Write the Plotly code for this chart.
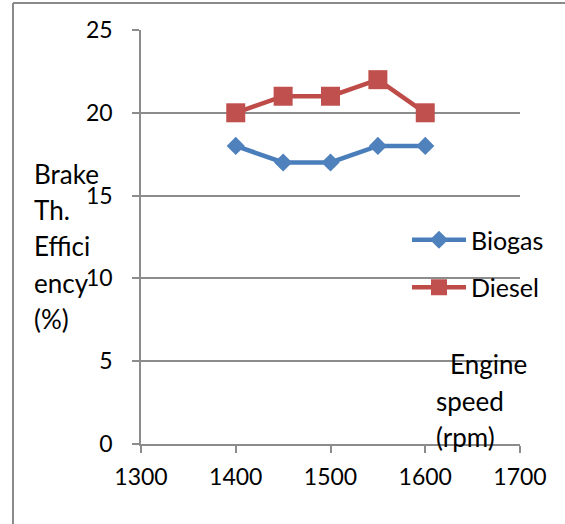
import plotly.graph_objects as go

# Engine speed (rpm) and brake thermal efficiency (%)
speed = [1400, 1450, 1500, 1550, 1600]
biogas = [18, 17, 17, 18, 18]
diesel = [20, 21, 21, 22, 20]

x_ticks = [1300, 1400, 1500, 1600, 1700]
y_ticks = [0, 5, 10, 15, 20, 25]

y_title_lines = ["Brake", "Th.", "Effici", "ency", "(%)"]
x_title_lines = ["Engine", "speed", "(rpm)"]

W, H = 565, 524
L, R, T, B = 141, 45, 30, 80
PW, PH = W - L - R, H - T - B

FONT = "Lato"
GRID = "#8c8c8c"


def px_x(p):
    return (p - L) / PW


def px_y(p):
    return (H - B - p) / PH


fig = go.Figure()
fig.add_trace(go.Scatter(
    x=speed, y=biogas, name="Biogas", mode="lines+markers",
    line=dict(color="#4A7EBB", width=4.5),
    marker=dict(symbol="diamond", size=14, color="#4F81BD"),
    legendgroup="a",
))
fig.add_trace(go.Scatter(
    x=speed, y=diesel, name="Diesel", mode="lines+markers",
    line=dict(color="#BE4B48", width=4.5),
    marker=dict(symbol="square", size=19, color="#C0504D"),
    legendgroup="b",
))

annotations = []
for i, t in enumerate(y_title_lines):
    annotations.append(dict(
        text=t, xref="paper", yref="paper", x=px_x(32), y=px_y(174 + 36.2 * i),
        xanchor="left", yanchor="middle", showarrow=False,
        font=dict(family=FONT, size=26, color="#000000"),
    ))
x_title_pos = [(448, 364), (434, 401), (434, 437)]
for t, (xp, yp) in zip(x_title_lines, x_title_pos):
    annotations.append(dict(
        text=t, xref="paper", yref="paper", x=px_x(xp), y=px_y(yp),
        xanchor="left", yanchor="middle", showarrow=False,
        font=dict(family=FONT, size=26, color="#000000"),
    ))

# outer frame (left and top edges)
shapes = [
    dict(type="line", xref="paper", yref="paper",
         x0=px_x(13), x1=px_x(13), y0=px_y(H + 5), y1=px_y(3),
         line=dict(color="#8a8a8a", width=2)),
    dict(type="line", xref="paper", yref="paper",
         x0=px_x(13), x1=px_x(W + 5), y0=px_y(3), y1=px_y(3),
         line=dict(color="#8a8a8a", width=2)),
]

fig.update_layout(
    width=W, height=H,
    margin=dict(l=L, r=R, t=T, b=B),
    paper_bgcolor="white", plot_bgcolor="white",
    font=dict(family=FONT, size=23, color="#000000"),
    showlegend=True,
    legend=dict(
        x=px_x(407), y=px_y(217), xanchor="left", yanchor="top",
        font=dict(family=FONT, size=25, color="#000000"),
        bgcolor="rgba(0,0,0,0)", tracegroupgap=12, itemwidth=54,
    ),
    annotations=annotations,
    shapes=shapes,
)
fig.update_xaxes(
    range=[1300, 1700], tickvals=x_ticks, ticktext=[str(v) for v in x_ticks],
    showgrid=False, zeroline=False,
    showline=True, linecolor=GRID, linewidth=1.5,
    ticks="outside", ticklen=7, tickwidth=1.5, tickcolor=GRID,
    ticklabelstandoff=5,
    tickfont=dict(family=FONT, size=23, color="#000000"),
)
fig.update_yaxes(
    range=[0, 25], tickvals=y_ticks, ticktext=[str(v) for v in y_ticks],
    showgrid=True, gridcolor=GRID, gridwidth=1.5, zeroline=False,
    showline=True, linecolor=GRID, linewidth=1.5,
    ticks="outside", ticklen=7, tickwidth=1.5, tickcolor=GRID,
    ticklabelstandoff=15,
    tickfont=dict(family=FONT, size=23, color="#000000"),
)

fig.write_html("out.html")
